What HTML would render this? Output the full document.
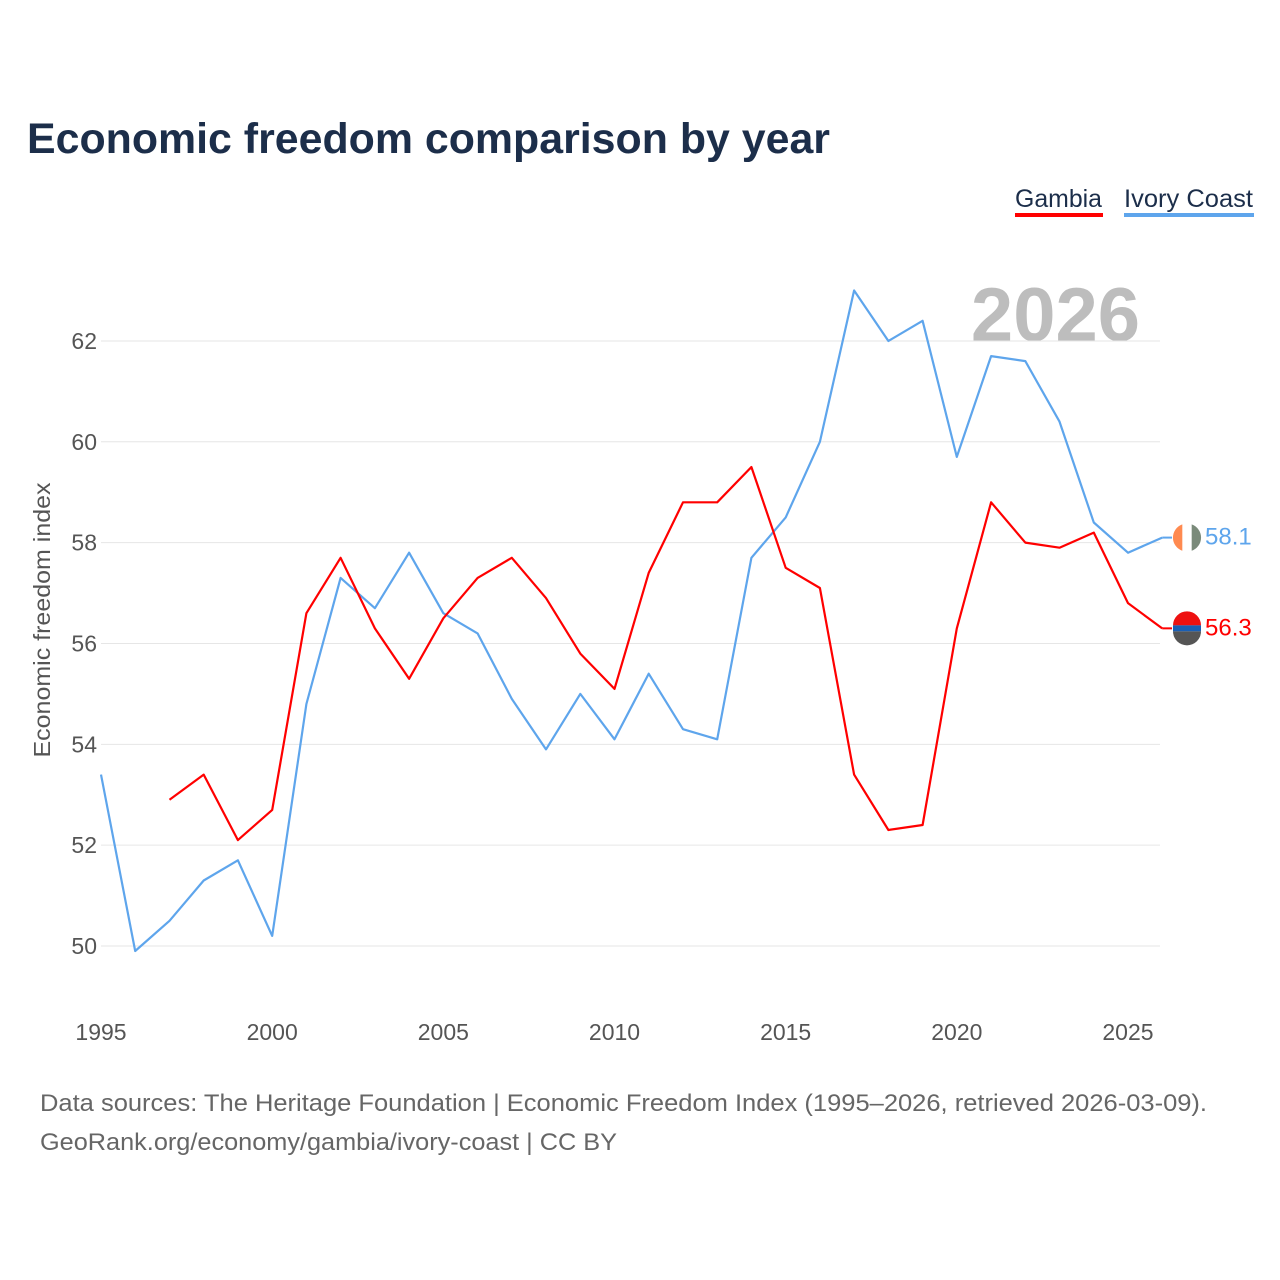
<!DOCTYPE html>
<html><head><meta charset="utf-8">
<style>
body{margin:0;background:#fff;font-family:"Liberation Sans",sans-serif;}
svg{display:block}
</style></head>
<body>
<svg width="1280" height="1280" viewBox="0 0 1280 1280">
<text x="27" y="153" font-size="43" font-weight="bold" fill="#1c2e4a" textLength="803" lengthAdjust="spacingAndGlyphs">Economic freedom comparison by year</text>
<g>
<text x="1015" y="207" font-size="25" fill="#1c2e4a" textLength="87" lengthAdjust="spacingAndGlyphs">Gambia</text>
<rect x="1015" y="213" width="88" height="4" fill="#ff0000"/>
<text x="1124" y="207" font-size="25" fill="#1c2e4a" textLength="129" lengthAdjust="spacingAndGlyphs">Ivory Coast</text>
<rect x="1124" y="213" width="130" height="4" fill="#5ea5ec"/>
</g>
<text x="1140" y="341" font-size="76" font-weight="bold" fill="#bdbdbd" text-anchor="end">2026</text>
<g id="grid"></g>
<g id="xaxis"></g>
<text transform="translate(50,620) rotate(-90)" font-size="23" fill="#555" text-anchor="middle" textLength="275" lengthAdjust="spacingAndGlyphs">Economic freedom index</text>
<g id="series"></g>
<g id="endmarks"></g>
<text x="40" y="1111" font-size="24" fill="#666" textLength="1167" lengthAdjust="spacingAndGlyphs">Data sources: The Heritage Foundation | Economic Freedom Index (1995–2026, retrieved 2026-03-09).</text>
<text x="40" y="1150" font-size="24" fill="#666" textLength="577" lengthAdjust="spacingAndGlyphs">GeoRank.org/economy/gambia/ivory-coast | CC BY</text>
</svg>
<script>
const years = [1995,1996,1997,1998,1999,2000,2001,2002,2003,2004,2005,2006,2007,2008,2009,2010,2011,2012,2013,2014,2015,2016,2017,2018,2019,2020,2021,2022,2023,2024,2025,2026];
const ivoryCoast = [53.4,49.9,50.5,51.3,51.7,50.2,54.8,57.3,56.7,57.8,56.6,56.2,54.9,53.9,55.0,54.1,55.4,54.3,54.1,57.7,58.5,60.0,63.0,62.0,62.4,59.7,61.7,61.6,60.4,58.4,57.8,58.1];
const gambia = [null,null,52.9,53.4,52.1,52.7,56.6,57.7,56.3,55.3,56.5,57.3,57.7,56.9,55.8,55.1,57.4,58.8,58.8,59.5,57.5,57.1,53.4,52.3,52.4,56.3,58.8,58.0,57.9,58.2,56.8,56.3];
const yTicks = [50,52,54,56,58,60,62];
const xTicks = [1995,2000,2005,2010,2015,2020,2025];
const NS="http://www.w3.org/2000/svg";
const X = yr => 101 + (yr-1995)*34.233;
const Y = v => 946 - (v-50)*50.42;
function mk(tag, attrs, parent){const e=document.createElementNS(NS,tag);for(const k in attrs)e.setAttribute(k,attrs[k]);parent.appendChild(e);return e;}
const grid=document.getElementById('grid');
yTicks.forEach(t=>{
  const l=mk('line',{x1:101,x2:1160,y1:Y(t),y2:Y(t),stroke:'#e6e6e6','stroke-width':1},grid);
  
  
  const tx=mk('text',{x:97,y:Y(t)+8,'font-size':23,fill:'#555','text-anchor':'end'},grid);
  tx.textContent=t;
  
  
});
const xa=document.getElementById('xaxis');
xTicks.forEach(t=>{
  const tx=mk('text',{x:X(t),y:1040,'font-size':23,fill:'#555','text-anchor':'middle'},xa);
  tx.textContent=t;
  
  
});
const sg=document.getElementById('series');
function line(vals,color,name){
  let d='';let pen=false;
  vals.forEach((v,i)=>{if(v==null){pen=false;return;}d+=(pen?'L':'M')+X(years[i]).toFixed(1)+','+Y(v).toFixed(1);pen=true;});
  const p=mk('path',{d:d,fill:'none',stroke:color,'stroke-width':2.2,'stroke-linejoin':'round'},sg);
  
  
}
line(ivoryCoast,'#5ea5ec','ivory-coast-line');
line(gambia,'#ff0000','gambia-line');
const em=document.getElementById('endmarks');
function endMark(vals,color,name,flag){
  const v=vals[vals.length-1];const x0=X(years[years.length-1]);const y=Y(v);
  mk('line',{x1:x0,x2:1172,y1:y,y2:y,stroke:color,'stroke-width':2},em);
  const g=mk('g',{},em);
  
  
  const cx=1187, r=14;
  if(flag==='ci'){
    mk('circle',{cx:cx,cy:y,r:r,fill:'#fff'},g);
    mk('path',{d:`M${cx-4.7},${y-13.2}A14,14 0 0 0 ${cx-4.7},${y+13.2}Z`,fill:'#ff8a50'},g);
    mk('path',{d:`M${cx+4.7},${y-13.2}A14,14 0 0 1 ${cx+4.7},${y+13.2}Z`,fill:'#7a8a7a'},g);
  } else {
    mk('path',{d:`M${cx-r},${y-3}A14,14 0 0 1 ${cx+r},${y-3}Z`,fill:'#ee1111'},g);
    mk('rect',{x:cx-r,y:y-3,width:2*r,height:6,fill:'#1a5fb4'},g);
    mk('path',{d:`M${cx-r},${y+3}A14,14 0 0 0 ${cx+r},${y+3}Z`,fill:'#555'},g);
  }
  const t=mk('text',{x:1205,y:y+7,'font-size':24,fill:color},em);
  t.textContent=v.toFixed(1);
  
  
}
endMark(ivoryCoast,'#5ea5ec','ivory-coast','ci');
endMark(gambia,'#ff0000','gambia','gm');
</script>
</body></html>
